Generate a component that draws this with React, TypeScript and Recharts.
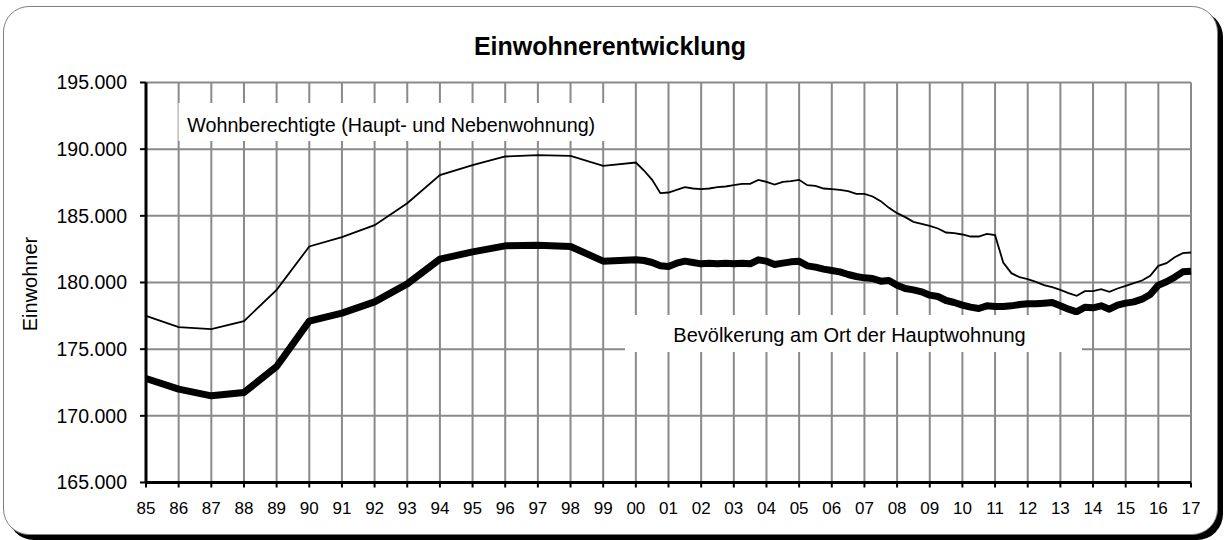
import React from "react";
import { LineChart, Line, CartesianGrid, XAxis, YAxis } from "recharts";

// 1985-1999 annual, from 2000 on quarterly
const periods = [
  1985, 1986, 1987, 1988, 1989, 1990, 1991, 1992, 1993, 1994, 1995, 1996, 1997, 1998, 1999,
  2000, 2000.25, 2000.5, 2000.75, 2001, 2001.25, 2001.5, 2001.75,
  2002, 2002.25, 2002.5, 2002.75, 2003, 2003.25, 2003.5, 2003.75,
  2004, 2004.25, 2004.5, 2004.75, 2005, 2005.25, 2005.5, 2005.75,
  2006, 2006.25, 2006.5, 2006.75, 2007, 2007.25, 2007.5, 2007.75,
  2008, 2008.25, 2008.5, 2008.75, 2009, 2009.25, 2009.5, 2009.75,
  2010, 2010.25, 2010.5, 2010.75, 2011, 2011.25, 2011.5, 2011.75,
  2012, 2012.25, 2012.5, 2012.75, 2013, 2013.25, 2013.5, 2013.75,
  2014, 2014.25, 2014.5, 2014.75, 2015, 2015.25, 2015.5, 2015.75,
  2016, 2016.25, 2016.5, 2016.75, 2017,
];

const wohnberechtigte = [
  177500, 176650, 176500, 177100, 179450, 182700, 183400, 184300, 185950, 188050, 188800, 189450, 189550, 189500, 188750,
  189000, 188400, 187700, 186700, 186750, 186950, 187150, 187050,
  187000, 187050, 187150, 187200, 187300, 187400, 187400, 187700,
  187550, 187350, 187550, 187600, 187700, 187300, 187250, 187050,
  187000, 186950, 186850, 186650, 186650, 186450, 186100, 185600,
  185200, 184900, 184550, 184400, 184250, 184050, 183750, 183700,
  183600, 183450, 183450, 183650, 183550, 181500, 180700, 180400,
  180250, 180050, 179800, 179650, 179450, 179200, 179000, 179350,
  179350, 179500, 179300, 179550, 179750, 179950, 180150, 180500,
  181250, 181450, 181900, 182200, 182250,
];

const hauptwohnung = [
  172800, 172000, 171500, 171750, 173700, 177100, 177700, 178550, 179900, 181750, 182300, 182750, 182800, 182700, 181600,
  181700, 181650, 181500, 181250, 181200, 181450, 181600, 181500,
  181400, 181450, 181400, 181450, 181400, 181450, 181400, 181700,
  181600, 181350, 181450, 181550, 181600, 181250, 181150, 181000,
  180900, 180800, 180600, 180450, 180350, 180300, 180100, 180150,
  179800, 179550, 179450, 179300, 179050, 178950, 178650, 178500,
  178300, 178150, 178050, 178250, 178200, 178200, 178250, 178350,
  178400, 178400, 178450, 178500, 178250, 178000, 177800, 178150,
  178100, 178250, 178000, 178300, 178450, 178550, 178750, 179100,
  179800, 180050, 180400, 180800, 180850,
];

const yearTicks = [
  1985, 1986, 1987, 1988, 1989, 1990, 1991, 1992, 1993, 1994, 1995, 1996, 1997, 1998, 1999, 2000,
  2001, 2002, 2003, 2004, 2005, 2006, 2007, 2008, 2009, 2010, 2011, 2012, 2013, 2014, 2015, 2016, 2017,
];
const valueTicks = [165000, 170000, 175000, 180000, 185000, 190000, 195000];

const data = periods.map((p, i) => ({
  p,
  wb: wohnberechtigte[i],
  hw: hauptwohnung[i],
}));

const font = "'Liberation Sans', Arial, sans-serif";

const fmtYear = (v: number) => String(v % 100).padStart(2, "0");
const fmtValue = (v: number) => `${Math.floor(v / 1000)}.${String(v % 1000).padStart(3, "0")}`;

export default function App() {
  return (
    <div style={{ position: "absolute", left: 0, top: 0, width: 1228, height: 540, background: "#fff", fontFamily: font }}>
      <div
        style={{
          position: "absolute",
          left: 3,
          top: 6,
          width: 1213,
          height: 527,
          border: "1.5px solid #808080",
          borderRadius: 26,
          boxShadow: "5px 5px 0 #000",
          background: "#fff",
        }}
      />
      <div style={{ position: "absolute", left: 0, top: 0 }}>
        <LineChart width={1228} height={540} data={data} margin={{ top: 82.5, right: 37, bottom: 0, left: 0 }}>
          <CartesianGrid stroke="#8a8a8a" strokeWidth={2} />
          <XAxis
            dataKey="p"
            type="number"
            domain={[1985, 2017]}
            ticks={yearTicks}
            tickFormatter={fmtYear}
            interval={0}
            height={57.5}
            axisLine={{ stroke: "#000", strokeWidth: 3 }}
            tickLine={{ stroke: "#000", strokeWidth: 2 }}
            tickSize={5}
            tickMargin={14}
            tick={{ fill: "#000", fontSize: 17, fontFamily: font }}
          />
          <YAxis
            type="number"
            domain={[165000, 195000]}
            ticks={valueTicks}
            tickFormatter={fmtValue}
            interval={0}
            width={146}
            axisLine={{ stroke: "#000", strokeWidth: 3 }}
            tickLine={{ stroke: "#000", strokeWidth: 2 }}
            tickSize={6}
            tickMargin={13}
            tick={{ fill: "#000", fontSize: 19.5, fontFamily: font }}
          />
          <Line
            type="linear"
            dataKey="wb"
            stroke="#000"
            strokeWidth={1.8}
            dot={false}
            isAnimationActive={false}
          />
          <Line
            type="linear"
            dataKey="hw"
            stroke="#000"
            strokeWidth={7}
            strokeLinejoin="round"
            dot={false}
            isAnimationActive={false}
          />
        </LineChart>
      </div>
      <svg width={1228} height={540} style={{ position: "absolute", left: 0, top: 0, pointerEvents: "none" }}>
        <text x={610} y={55} textAnchor="middle" fontSize={25} fontWeight="bold" fontFamily={font} fill="#000">
          Einwohnerentwicklung
        </text>
        <text
          x={36.5}
          y={284}
          transform="rotate(-90 36.5 284)"
          textAnchor="middle"
          fontSize={20}
          fontFamily={font}
          fill="#000"
        >
          Einwohner
        </text>
        <rect x={178.5} y={103} width={451} height={38} fill="#fff" />
        <text x={187.3} y={131.7} fontSize={19.7} fontFamily={font} fill="#000">
          Wohnberechtigte (Haupt- und Nebenwohnung)
        </text>
        <rect x={625} y={315} width={457} height={37} fill="#fff" />
        <text x={673.3} y={341.7} fontSize={20} fontFamily={font} fill="#000">
          Bevölkerung am Ort der Hauptwohnung
        </text>
      </svg>
    </div>
  );
}
